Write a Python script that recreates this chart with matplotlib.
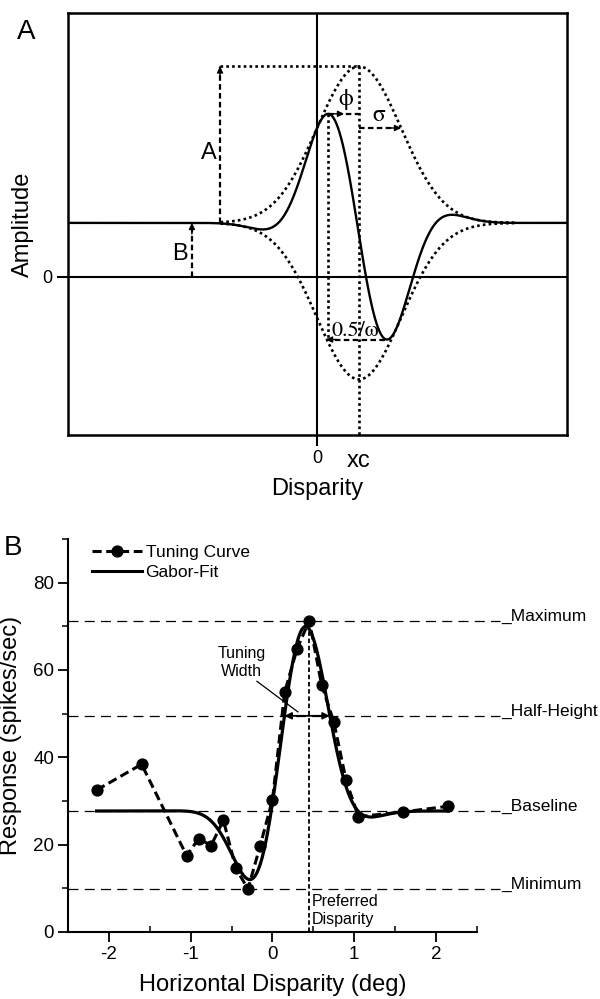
import numpy as np
import matplotlib.pyplot as plt
from matplotlib.lines import Line2D

plt.rcParams['font.family'] = ['Liberation Sans', 'DejaVu Sans']
plt.rcParams['axes.unicode_minus'] = False

# schematic Gabor used in panel A (arbitrary units)
a_base = 1.0      # B
a_amp = 2.9       # A
a_xc = 1.0        # xc
a_sigma = 1.0     # sigma
a_freq = 1.675    # omega (angular)
a_phase = 1.651   # phi

# measured disparity tuning curve (panel B)
disparity = [-2.15, -1.6, -1.05, -0.9, -0.75, -0.6, -0.45, -0.3, -0.15, 0.0,
             0.15, 0.3, 0.45, 0.6, 0.75, 0.9, 1.05, 1.6, 2.15]
response = [32.5, 38.4, 17.5, 21.4, 19.8, 25.6, 14.7, 9.8, 19.8, 30.3,
            55.0, 64.8, 71.3, 56.6, 48.1, 34.7, 26.4, 27.5, 28.8]

# Gabor fit parameters for the tuning curve
fit_base = 27.7
fit_amp = 48.6
fit_xc = 0.235
fit_sigma = 0.412
fit_freq = 2.96
fit_phase = -0.83

greek = ['STIXGeneral', 'DejaVu Serif']


def gabor(x, base, amp, xc, sigma, freq, phase):
    u = x - xc
    return base + amp * np.exp(-u ** 2 / (2 * sigma ** 2)) * np.cos(freq * u + phase)


def head(ax, x, y, dx, dy, size=8):
    # small solid arrowhead ending at (x, y), pointing along (dx, dy)
    ax.annotate('', xy=(x, y), xytext=(-dx * size, -dy * size), textcoords='offset points',
                arrowprops=dict(arrowstyle='-|>', color='k', lw=1.0, mutation_scale=9,
                                shrinkA=0, shrinkB=0))


fig = plt.figure(figsize=(6, 9.99), dpi=100)

dash = (0, (2.5, 1.5))
dot = (0, (1, 1.2))

# ---------------- panel A ----------------
ax = fig.add_axes([0.1133, 0.5646, 0.8317, 0.4224])
ax.set_xlim(-5.93, 5.95)
ax.set_ylim(-2.93, 4.89)

x = np.linspace(-5.93, 5.95, 2000)
y = gabor(x, a_base, a_amp, a_xc, a_sigma, a_freq, a_phase)
env = np.exp(-(x - a_xc) ** 2 / (2 * a_sigma ** 2))

ax.axhline(0, color='k', lw=1.5)
ax.axvline(0, color='k', lw=1.5)

ev = (x > a_xc - 3.3) & (x < a_xc + 3.7)
ax.plot(x[ev], a_base + a_amp * env[ev], color='k', lw=1.9, ls=dot)
ax.plot(x[ev], a_base - a_amp * env[ev], color='k', lw=1.9, ls=dot)
ax.plot(x, y, color='k', lw=1.7)

ipk = np.argmax(y)
itr = np.argmin(y)
xpk, ypk = x[ipk], y[ipk]
xtr, ytr = x[itr], y[itr]
top = a_base + a_amp

# A: amplitude arrow and top guide
xa = a_xc - 3.31
ax.plot([xa, xa], [a_base, top], color='k', lw=1.6, ls=dash)
head(ax, xa, top, 0, 1)
ax.plot([xa, a_xc], [top, top], color='k', lw=1.9, ls=dot)
ax.text(xa - 0.08, 2.3, 'A', fontsize=17, ha='right', va='center')

# B: baseline arrow
xb = -2.98
ax.plot([xb, xb], [0, a_base], color='k', lw=1.6, ls=dash)
head(ax, xb, a_base, 0, 1)
ax.text(xb - 0.1, 0.42, 'B', fontsize=17, ha='right', va='center')

# xc guide
ax.plot([a_xc, a_xc], [top, -2.93], color='k', lw=1.9, ls=dot)

# phi: peak offset from xc
ax.plot([xpk, a_xc], [ypk, ypk], color='k', lw=1.6, ls=dash)
head(ax, xpk + 0.38, ypk, 1, 0)
ax.text((xpk + a_xc) / 2 + 0.06, ypk + 0.08, 'ϕ', fontsize=17, family=greek,
        ha='center', va='bottom')

# sigma
ys = a_base + a_amp * np.exp(-0.5)
ax.plot([a_xc, a_xc + a_sigma], [ys, ys], color='k', lw=1.6, ls=dash)
head(ax, a_xc + a_sigma, ys, 1, 0)
ax.text(a_xc + 0.48, ys + 0.04, 'σ', fontsize=17, family=greek, ha='center', va='bottom')

# half period 0.5/omega
ax.plot([xpk, xpk], [ypk, ytr], color='k', lw=1.9, ls=dot)
ax.plot([xpk - 0.05, xtr], [ytr, ytr], color='k', lw=1.6, ls=dash)
head(ax, xpk - 0.05, ytr, -1, 0)
ax.text((xpk + xtr) / 2 - 0.05, ytr - 0.02, '0.5/ω', fontsize=16, family=greek,
        ha='center', va='bottom')

for s in ax.spines.values():
    s.set_linewidth(1.8)
ax.set_yticks([0])
ax.set_xticks([0, a_xc], ['0', 'xc'])
ax.tick_params(direction='out', length=8, width=1.5, labelsize=13, pad=3)
ax.get_xticklabels()[1].set_fontsize(17)
ax.xaxis.get_major_ticks()[1].tick1line.set_visible(False)
ax.set_xlabel('Disparity', fontsize=17, labelpad=4)
ax.set_ylabel('Amplitude', fontsize=17, labelpad=6)

fig.text(0.043, 0.968, 'A', fontsize=20, ha='center', va='center')

# ---------------- panel B ----------------
bx = fig.add_axes([0.1133, 0.0671, 0.6817, 0.3934])
bx.set_xlim(-2.5, 2.5)
bx.set_ylim(0, 90)

xf = np.linspace(disparity[0], disparity[-1], 600)
yf = gabor(xf, fit_base, fit_amp, fit_xc, fit_sigma, fit_freq, fit_phase)

r_max = max(response)
r_min = min(response)
half = (r_max + fit_base) / 2
pref = disparity[int(np.argmax(response))]

xend = 2.78
for level, name in [(r_max, 'Maximum'), (half, 'Half-Height'),
                    (fit_base, 'Baseline'), (r_min, 'Minimum')]:
    bx.plot([-2.5, xend], [level, level], color='k', lw=0.9, ls=(0, (8, 5)), clip_on=False)
    bx.text(xend + 0.02, level, '_' + name, fontsize=12.5, ha='left', va='baseline', clip_on=False)

bx.plot([pref, pref], [0, r_max], color='k', lw=1.3, ls=(0, (2.5, 1.5)))
bx.text(pref + 0.03, 8.7, 'Preferred\nDisparity', fontsize=11.5, ha='left', va='top',
        linespacing=1.25)

bx.plot(xf, yf, color='k', lw=2.3, zorder=3)
bx.plot(disparity, response, color='k', lw=2.2, ls=(0, (3, 1.5)), marker='o', ms=7.8, zorder=4)

# tuning width at half height, between the crossings of the fit
above = xf[yf >= half]
wl, wr = above.min(), above.max()
bx.annotate('', xy=(wl, half), xytext=(pref, half),
            arrowprops=dict(arrowstyle='-|>', color='k', lw=1.3, mutation_scale=10, shrinkA=0, shrinkB=0))
bx.annotate('', xy=(wr, half), xytext=(pref, half),
            arrowprops=dict(arrowstyle='-|>', color='k', lw=1.3, mutation_scale=10, shrinkA=0, shrinkB=0))
bx.text(-0.38, 65.5, 'Tuning\nWidth', fontsize=11.5, ha='center', va='top', linespacing=1.25)
bx.plot([-0.19, 0.31], [57.4, 50.4], color='k', lw=0.9)

for s in ['top', 'right']:
    bx.spines[s].set_visible(False)
for s in ['left', 'bottom']:
    bx.spines[s].set_linewidth(1.5)
bx.set_xticks([-2, -1, 0, 1, 2])
bx.set_xticks([-2.5, -1.5, -0.5, 0.5, 1.5, 2.5], minor=True)
bx.set_yticks([0, 20, 40, 60, 80])
bx.set_yticks([10, 30, 50, 70, 90], minor=True)
bx.tick_params(which='major', direction='out', length=7, width=1.3, labelsize=13.5, pad=3)
bx.tick_params(which='minor', direction='out', length=4, width=1.1)
bx.tick_params(axis='x', which='minor', direction='in')
bx.set_xlabel('Horizontal Disparity (deg)', fontsize=17, labelpad=8)
bx.set_ylabel('Response (spikes/sec)', fontsize=17, labelpad=8)

handles = [Line2D([], [], color='k', lw=2.2, ls=(0, (3, 1.5)), marker='o', ms=7.8),
           Line2D([], [], color='k', lw=2.2)]
bx.legend(handles, ['Tuning Curve', 'Gabor-Fit'], loc='upper left', bbox_to_anchor=(0.058, 0.985),
          frameon=False, fontsize=12.5, handlelength=2.9, handletextpad=0.2,
          labelspacing=0.3, borderpad=0, borderaxespad=0)

fig.text(0.022, 0.4515, 'B', fontsize=20, ha='center', va='center')

fig.savefig('out.png', dpi=100)
